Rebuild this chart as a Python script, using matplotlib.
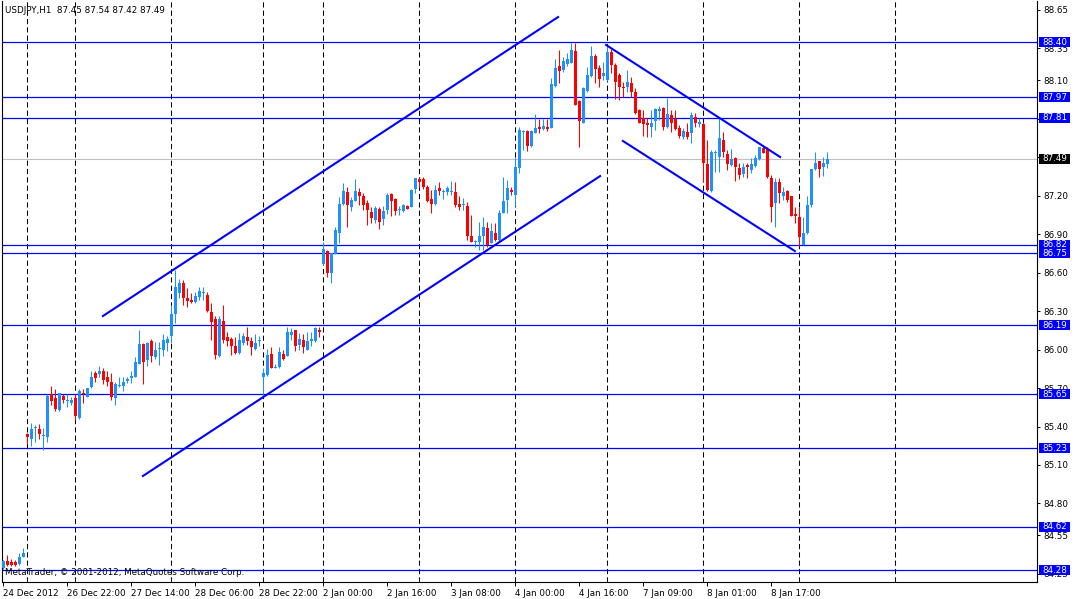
import matplotlib
matplotlib.use('Agg')
import matplotlib.pyplot as plt
from matplotlib.patches import Rectangle
from matplotlib.transforms import blended_transform_factory

# USDJPY H1 candles, bar 0 = 24 Dec 2012
opens = [84.30, 84.35, 84.34, 84.34, 84.33, 84.385, 85.34, 85.30, 85.39, 85.38,
         85.33, 85.32, 85.65, 85.62, 85.53, 85.64, 85.60, 85.58, 85.62, 85.47,
         85.66, 85.63, 85.71, 85.82, 85.81, 85.83, 85.79, 85.75, 85.62, 85.715,
         85.72, 85.755, 85.775, 85.79, 85.89, 86.04, 85.92, 86.07, 85.94, 86.005,
         86.00, 86.055, 86.11, 86.28, 86.44, 86.52, 86.40, 86.39, 86.37, 86.41,
         86.445, 86.43, 86.29, 86.24, 85.95, 86.22, 86.095, 86.085, 86.03, 85.97,
         86.055, 86.10, 86.065, 86.005, 86.07, 85.79, 85.80, 85.965, 85.86, 85.865,
         85.965, 85.95, 86.115, 86.155, 86.035, 86.075, 86.00, 86.07, 86.07, 86.15,
         86.67, 86.77, 86.595, 86.745, 86.91, 87.135, 87.23, 87.116, 87.163, 87.228,
         87.202, 87.147, 87.077, 87.012, 87.095, 87.017, 87.09, 87.215, 87.176, 87.09,
         87.082, 87.124, 87.116, 87.254, 87.332, 87.332, 87.272, 87.173, 87.137, 87.262,
         87.228, 87.233, 87.233, 87.233, 87.134, 87.129, 87.121, 86.89, 86.838, 86.843,
         86.887, 86.952, 86.835, 86.913, 86.856, 87.069, 87.168, 87.246, 87.207, 87.415,
         87.696, 87.706, 87.589, 87.693, 87.74, 87.722, 87.74, 87.732, 88.057, 88.213,
         88.182, 88.226, 88.239, 88.33, 87.943, 87.771, 88.018, 88.138, 88.291, 88.195,
         88.138, 88.104, 88.325, 88.221, 88.143, 88.052, 88.052, 88.083, 88.013, 87.87,
         87.805, 87.766, 87.74, 87.787, 87.865, 87.886, 87.735, 87.831, 87.797, 87.727,
         87.662, 87.701, 87.688, 87.812, 87.758, 87.758, 87.448, 87.24, 87.531, 87.505,
         87.635, 87.526, 87.44, 87.492, 87.42, 87.37, 87.44, 87.401, 87.433, 87.485,
         87.57, 87.563, 87.336, 87.141, 87.31, 87.199, 87.238, 87.199, 87.058, 87.037,
         86.816, 86.907, 87.128, 87.41, 87.472, 87.427, 87.45]
highs = [84.36, 84.40, 84.37, 84.36, 84.41, 84.45, 85.35, 85.43, 85.41, 85.42,
         85.39, 85.65, 85.72, 85.69, 85.66, 85.65, 85.65, 85.63, 85.65, 85.69,
         85.69, 85.70, 85.83, 85.83, 85.87, 85.86, 85.83, 85.82, 85.75, 85.79,
         85.79, 85.79, 85.83, 85.94, 86.15, 86.05, 86.06, 86.08, 86.06, 86.06,
         86.12, 86.11, 86.35, 86.62, 86.55, 86.54, 86.48, 86.44, 86.45, 86.49,
         86.49, 86.45, 86.36, 86.26, 86.26, 86.35, 86.14, 86.10, 86.10, 86.13,
         86.13, 86.18, 86.10, 86.12, 86.11, 85.855, 86.005, 86.02, 85.89, 86.02,
         86.00, 86.18, 86.165, 86.155, 86.13, 86.12, 86.135, 86.14, 86.18, 86.18,
         86.84, 86.775, 86.75, 86.955, 87.19, 87.30, 87.27, 87.194, 87.332, 87.262,
         87.22, 87.168, 87.116, 87.124, 87.116, 87.124, 87.22, 87.22, 87.181, 87.124,
         87.134, 87.129, 87.251, 87.339, 87.35, 87.35, 87.285, 87.246, 87.285, 87.306,
         87.251, 87.278, 87.316, 87.306, 87.202, 87.186, 87.155, 87.051, 86.856, 86.999,
         87.038, 86.999, 86.991, 86.991, 87.09, 87.35, 87.324, 87.272, 87.506, 87.74,
         87.714, 87.714, 87.714, 87.836, 87.80, 87.80, 87.80, 88.122, 88.265, 88.338,
         88.286, 88.312, 88.395, 88.395, 87.948, 88.052, 88.208, 88.369, 88.307, 88.221,
         88.247, 88.369, 88.343, 88.234, 88.156, 88.091, 88.182, 88.13, 88.039, 87.875,
         87.87, 87.805, 87.87, 87.883, 87.901, 87.896, 87.961, 87.87, 87.87, 87.75,
         87.726, 87.766, 87.856, 87.843, 87.805, 87.779, 87.635, 87.557, 87.557, 87.812,
         87.701, 87.557, 87.563, 87.505, 87.453, 87.453, 87.453, 87.492, 87.518, 87.583,
         87.596, 87.583, 87.362, 87.336, 87.336, 87.271, 87.245, 87.199, 87.11, 87.11,
         87.037, 87.199, 87.41, 87.544, 87.472, 87.505, 87.54]
lows = [84.29, 84.31, 84.31, 84.31, 84.32, 84.38, 85.26, 85.25, 85.28, 85.30,
        85.22, 85.28, 85.57, 85.52, 85.52, 85.58, 85.55, 85.57, 85.45, 85.46,
        85.58, 85.63, 85.70, 85.75, 85.79, 85.73, 85.72, 85.61, 85.57, 85.71,
        85.68, 85.74, 85.74, 85.79, 85.89, 85.73, 85.87, 85.90, 85.93, 85.88,
        85.95, 85.99, 86.05, 86.21, 86.40, 86.35, 86.33, 86.36, 86.36, 86.39,
        86.39, 86.29, 86.075, 85.93, 85.94, 86.055, 86.03, 85.96, 85.965, 85.965,
        86.035, 86.035, 85.96, 86.00, 86.03, 85.63, 85.795, 85.855, 85.855, 85.86,
        85.92, 85.95, 86.075, 85.99, 86.00, 85.97, 85.995, 86.03, 86.06, 86.10,
        86.66, 86.565, 86.52, 86.745, 86.835, 87.13, 86.96, 87.082, 87.16, 87.132,
        87.09, 86.976, 86.986, 86.991, 86.942, 86.973, 87.059, 87.046, 87.051, 87.051,
        87.077, 87.095, 87.111, 87.22, 87.272, 87.256, 87.155, 87.069, 87.132, 87.207,
        87.173, 87.207, 87.207, 87.116, 87.09, 87.09, 86.856, 86.838, 86.804, 86.778,
        86.778, 86.804, 86.83, 86.851, 86.848, 87.064, 87.064, 87.207, 87.121, 87.381,
        87.558, 87.553, 87.584, 87.688, 87.693, 87.714, 87.706, 87.727, 88.052, 88.078,
        88.169, 88.213, 88.234, 87.909, 87.584, 87.766, 88.013, 88.13, 88.078, 88.047,
        88.104, 88.099, 88.156, 87.953, 87.948, 87.974, 88.013, 87.974, 87.839, 87.766,
        87.667, 87.662, 87.662, 87.714, 87.79, 87.714, 87.727, 87.701, 87.714, 87.65,
        87.643, 87.641, 87.615, 87.734, 87.734, 87.31, 87.24, 87.232, 87.388, 87.388,
        87.505, 87.401, 87.433, 87.318, 87.329, 87.344, 87.336, 87.381, 87.427, 87.48,
        87.531, 87.336, 86.998, 86.959, 87.141, 87.167, 87.149, 87.043, 86.985, 86.809,
        86.816, 86.902, 87.115, 87.401, 87.344, 87.354, 87.42]
closes = [84.35, 84.32, 84.32, 84.32, 84.385, 84.41, 85.32, 85.38, 85.40, 85.34,
          85.335, 85.64, 85.60, 85.54, 85.66, 85.61, 85.61, 85.61, 85.48, 85.68,
          85.65, 85.70, 85.79, 85.78, 85.83, 85.76, 85.75, 85.63, 85.73, 85.725,
          85.75, 85.77, 85.795, 85.90, 86.04, 85.90, 86.05, 85.95, 86.00, 86.015,
          86.075, 86.085, 86.28, 86.49, 86.52, 86.40, 86.38, 86.37, 86.42, 86.46,
          86.45, 86.30, 86.215, 85.96, 86.24, 86.075, 86.065, 86.03, 85.975, 86.075,
          86.11, 86.065, 86.02, 86.055, 86.075, 85.82, 85.96, 85.86, 85.865, 85.98,
          85.925, 86.14, 86.14, 86.03, 86.085, 86.02, 86.07, 86.085, 86.17, 86.135,
          86.785, 86.60, 86.75, 86.93, 87.14, 87.235, 87.125, 87.168, 87.238, 87.202,
          87.132, 87.09, 87.025, 87.103, 86.999, 87.085, 87.207, 87.163, 87.082, 87.098,
          87.129, 87.098, 87.246, 87.339, 87.308, 87.272, 87.16, 87.137, 87.246, 87.241,
          87.233, 87.262, 87.238, 87.129, 87.116, 87.134, 86.89, 86.843, 86.851, 86.887,
          86.96, 86.817, 86.926, 86.856, 87.064, 87.16, 87.262, 87.23, 87.428, 87.714,
          87.701, 87.589, 87.706, 87.732, 87.722, 87.745, 87.722, 88.073, 88.20, 88.174,
          88.255, 88.265, 88.338, 87.909, 87.787, 88.044, 88.143, 88.291, 88.187, 88.114,
          88.156, 88.325, 88.221, 88.091, 88.052, 88.044, 88.091, 88.013, 87.844, 87.771,
          87.761, 87.753, 87.766, 87.878, 87.875, 87.735, 87.839, 87.766, 87.719, 87.667,
          87.709, 87.662, 87.83, 87.766, 87.779, 87.453, 87.245, 87.544, 87.544, 87.648,
          87.539, 87.448, 87.485, 87.422, 87.362, 87.427, 87.422, 87.448, 87.492, 87.583,
          87.537, 87.344, 87.115, 87.31, 87.225, 87.227, 87.167, 87.043, 87.043, 86.881,
          86.907, 87.128, 87.41, 87.459, 87.41, 87.459, 87.49]

# horizontal levels drawn on the chart
levels = [88.40, 87.97, 87.81, 86.82, 86.75, 86.19, 85.65, 85.23, 84.62, 84.28]
last_price = 87.49

# trend lines: (bar, price) endpoints
trend_lines = [
    [(24.9, 86.262), (138.7, 88.595)],
    [(34.9, 85.014), (149.2, 87.354)],
    [(150.7, 88.377), (194.2, 87.503)],
    [(154.9, 87.628), (197.9, 86.769)],
]

# day separators (bar index)
day_bars = [6, 18, 42, 65, 80, 104, 128, 151, 175, 199, 223]

# time axis labels
label_bars = [0, 16, 32, 48, 64, 80, 96, 112, 128, 144, 160, 176, 192]
label_text = ['24 Dec 2012', '26 Dec 22:00', '27 Dec 14:00', '28 Dec 06:00',
              '28 Dec 22:00', '2 Jan 00:00', '2 Jan 16:00', '3 Jan 08:00',
              '4 Jan 00:00', '4 Jan 16:00', '7 Jan 09:00', '8 Jan 01:00',
              '8 Jan 17:00']

price_ticks = [88.65, 88.35, 88.10, 87.80, 87.50, 87.20, 86.90, 86.60, 86.30,
               86.00, 85.70, 85.40, 85.10, 84.80, 84.55, 84.25]

FS = 6.3
plt.rcParams['font.family'] = ['DejaVu Sans']

fig = plt.figure(figsize=(10.75, 5.99), dpi=100)
ax = fig.add_axes([2/1075, 17/599, 1035/1075, 581/599])
ax.set_xlim(-0.325, 258.425)
ax.set_ylim(84.187, 88.72)

for b in day_bars:
    ax.axvline(b, color='black', lw=0.75, ls=(0, (5, 3)), zorder=1)

for lv in levels:
    ax.axhline(lv, color='#0000ff', lw=0.9, zorder=2)
ax.axhline(last_price, color='#c0c0c0', lw=0.8, zorder=2)

up_col = '#1e90ff'
dn_col = '#ff0000'
for i in range(len(opens)):
    o, h, l, c = opens[i], highs[i], lows[i], closes[i]
    col = up_col if c >= o else dn_col
    ax.vlines(i, l, h, color=col, lw=0.75, zorder=3)
    bot = min(o, c)
    hgt = max(abs(c - o), 0.006)
    ax.bar(i, hgt, bottom=bot, width=0.75, color=col, lw=0, zorder=4)

for seg in trend_lines:
    xs = [p[0] for p in seg]
    ys = [p[1] for p in seg]
    ax.plot(xs, ys, color='#0000ff', lw=1.5, zorder=5)

# axes styling
ax.spines['top'].set_visible(False)
for s in ['left', 'right', 'bottom']:
    ax.spines[s].set_linewidth(0.8)
    ax.spines[s].set_color('black')
ax.yaxis.tick_right()
ax.set_yticks(price_ticks)
ax.set_yticklabels(['%.2f' % t for t in price_ticks])
ax.tick_params(axis='y', length=2.5, width=0.7, pad=2, labelsize=FS)
ax.set_xticks(label_bars)
ax.set_xticklabels(label_text, ha='left')
ax.tick_params(axis='x', length=3, width=0.7, pad=2, labelsize=FS)

# price labels on the right axis
trans = blended_transform_factory(ax.transAxes, ax.transData)
box_w = 31 / 1035
box_h = 10 / 128.16
for lv in levels + [last_price]:
    fc = 'black' if lv == last_price else '#0000ff'
    ax.add_patch(Rectangle((1.002, lv - box_h / 2), box_w, box_h, transform=trans,
                           facecolor=fc, edgecolor='none', clip_on=False, zorder=10))
    ax.text(1.002 + box_w / 2, lv, '%.2f' % lv, transform=trans, color='white',
            fontsize=FS, ha='center', va='center', clip_on=False, zorder=11)

ax.text(0.003, 0.992, 'USDJPY,H1  87.45 87.54 87.42 87.49', transform=ax.transAxes,
        fontsize=FS, ha='left', va='top', color='black')
ax.text(0.003, 0.008, 'MetaTrader, \u00a9 2001-2012, MetaQuotes Software Corp.',
        transform=ax.transAxes, fontsize=FS, ha='left', va='bottom', color='black',
        zorder=12)

fig.savefig('out.png', dpi=100, facecolor='white')
